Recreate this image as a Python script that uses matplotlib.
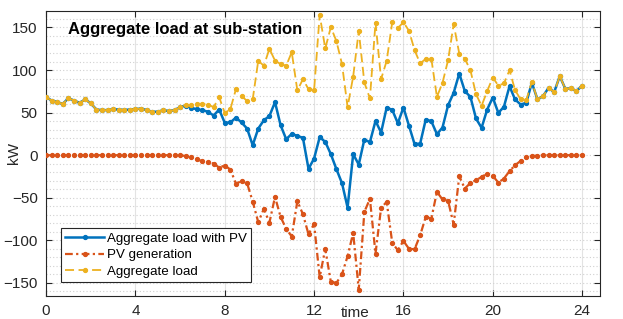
import numpy as np
import matplotlib
matplotlib.use("Agg")
import matplotlib.pyplot as plt
from matplotlib.ticker import MultipleLocator

plt.rcParams['font.family'] = ['Liberation Sans', 'DejaVu Sans']

# time of day, one value every 15 minutes
time = np.arange(0, 24.01, 0.25)

# aggregate load without PV (kW)
load = [68.1, 64.2, 62.3, 60.3, 67.0, 64.2, 61.5, 65.4, 61.0, 53.6, 52.9, 52.9,
        54.0, 53.6, 53.0, 53.6, 54.0, 54.8, 52.9, 51.0, 51.0, 53.0, 51.7, 53.0,
        56.4, 59.0, 58.7, 60.7, 60.0, 59.5, 56.4, 68.0, 49.7, 54.0, 77.5, 69.3,
        63.8, 65.4, 111.0, 105.0, 125.0, 111.0, 107.0, 105.0, 121.0, 76.0, 89.3, 77.5,
        76.4, 164.8, 125.3, 150.4, 133.9, 106.9, 56.4, 92.4, 146.0, 85.4, 66.6, 155.8,
        89.3, 110.8, 156.2, 149.2, 156.2, 146.0, 123.3, 107.7, 113.2, 113.2, 68.5, 85.0,
        111.6, 153.9, 119.4, 113.2, 99.8, 71.7, 58.0, 75.2, 91.2, 81.8, 84.2, 99.8,
        76.4, 65.4, 64.6, 86.1, 65.8, 69.3, 79.1, 74.0, 92.8, 77.9, 78.7, 75.2,
        81.8]

# aggregate load with PV (kW)
load_pv = [68.1, 64.2, 62.3, 60.3, 67.0, 64.2, 61.5, 65.4, 61.0, 53.6, 52.9, 52.9,
           54.0, 53.6, 53.0, 53.6, 54.0, 54.8, 52.9, 51.0, 51.0, 53.0, 51.7, 53.0,
           56.4, 58.3, 55.6, 54.0, 52.9, 51.0, 46.6, 53.6, 38.0, 38.4, 44.2, 38.4,
           31.3, 11.7, 31.3, 41.0, 46.0, 62.3, 35.2, 18.8, 25.0, 22.7, 20.4, -16.0,
           -3.9, 21.1, 15.7, 1.2, -16.4, -32.9, -61.5, 1.2, -11.0, 18.4, 15.3, 40.3,
           26.6, 56.0, 53.2, 37.5, 56.0, 34.5, 12.9, 13.7, 41.9, 39.9, 24.7, 32.5,
           58.7, 73.2, 95.9, 75.2, 68.5, 43.1, 32.1, 53.6, 67.7, 49.7, 56.8, 81.0,
           65.4, 59.5, 61.5, 85.0, 65.8, 69.3, 79.1, 74.0, 92.8, 77.9, 78.7, 75.2,
           81.8]

# PV generation (kW, negative)
pv = [0, 0, 0, 0, 0, 0, 0, 0, 0, 0, 0, 0,
      0, 0, 0, 0, 0, 0, 0, 0, 0, 0, 0, 0,
      0, -1.0, -2.7, -5.0, -7.0, -8.3, -9.8, -14.5, -12.1, -16.8, -33.3, -30.5,
      -32.9, -54.4, -78.7, -63.0, -79.1, -48.9, -72.4, -86.5, -95.5, -54.0, -69.3, -92.8,
      -80.7, -143.3, -110.0, -148.8, -150.0, -139.8, -118.6, -91.2, -157.8, -66.6, -51.3, -115.5,
      -61.9, -54.8, -103.0, -111.6, -100.6, -110.0, -110.4, -94.0, -72.4, -74.4, -43.1, -52.0,
      -53.6, -81.4, -24.7, -39.2, -32.5, -29.4, -25.5, -21.5, -24.3, -32.1, -27.4, -18.8,
      -11.7, -6.7, -2.7, -1.2, -0.4, 0, 0, 0, 0, 0, 0, 0,
      0]

xticks = [0, 4, 8, 12, 16, 20, 24]

fig = plt.figure(figsize=(6.23, 3.19), dpi=100)
ax = fig.add_axes([0.074, 0.073, 0.889, 0.893])

c_blue = '#0072BD'
c_orange = '#D95319'
c_yellow = '#EDB120'

ax.plot(time, load_pv, '-', color=c_blue, lw=1.8, marker='o', ms=2.8,
        label='Aggregate load with PV', zorder=4)
ax.plot(time, pv, color=c_orange, lw=1.6, ls=(0, (3.5, 1.5, 1, 1.5)),
        marker='o', ms=2.8, label='PV generation', zorder=3)
ax.plot(time, load, color=c_yellow, lw=1.3, ls=(0, (5, 2.5)), marker='o', ms=2.8,
        label='Aggregate load', zorder=5)

ax.set_xlim(0, 24.8)
ax.set_ylim(-165, 169.5)
ax.set_xticks(xticks)
ax.yaxis.set_major_locator(MultipleLocator(50))
ax.yaxis.set_minor_locator(MultipleLocator(10))

ax.grid(axis='x', which='major', color='#e3e3e3', lw=0.8, zorder=0)
ax.grid(axis='y', which='both', color='#d0d0d0', lw=0.8, ls=(0, (1, 2)), zorder=0)
ax.set_axisbelow(True)

ax.tick_params(which='major', direction='in', length=4, width=0.8,
               top=True, right=True, colors='#262626', labelsize=11, pad=6)
ax.tick_params(which='minor', length=0)
for s in ax.spines.values():
    s.set_color('#262626')
    s.set_linewidth(0.8)

ax.text(0.04, 0.935, 'Aggregate load at sub-station', transform=ax.transAxes,
        fontsize=12, fontweight='bold', ha='left', va='center')

ax.set_xlabel('time', fontsize=11, color='#262626')
ax.xaxis.set_label_coords(0.558, -0.035)
ax.set_ylabel('kW', fontsize=11, color='#262626')
ax.yaxis.set_label_coords(-0.045, 0.5)

leg = ax.legend(loc='lower left', bbox_to_anchor=(0.026, 0.047), fontsize=9.6,
                handlelength=2.9, handletextpad=0.2, borderpad=0.35,
                labelspacing=0.3, fancybox=False, framealpha=1,
                edgecolor='#262626', borderaxespad=0)
leg.get_frame().set_linewidth(0.8)

fig.savefig('out.png', dpi=100)
